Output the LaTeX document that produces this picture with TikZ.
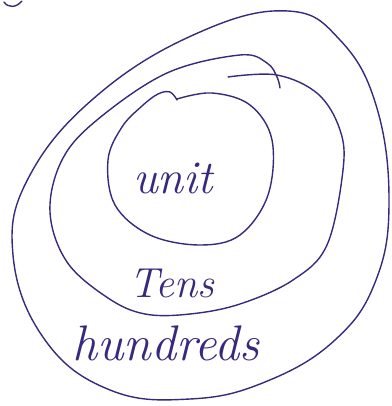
\documentclass[tikz,border=0pt]{standalone}
\begin{document}
\begin{tikzpicture}[x=1pt,y=-1pt,
  ink/.style={draw=inkc,line width=1.4pt,line cap=round,line join=round},
  lbl/.style={text=inkc,font=\itshape,anchor=base,inner sep=0pt}]
\definecolor{inkc}{RGB}{55,42,125}
\useasboundingbox (0,0) rectangle (391,406);
% outer (hundreds)
\draw[ink] plot[smooth cycle,tension=0.7] coordinates {
 (288,11) (340,40) (376,105) (389,200) (376,280) (335,340) (265,382)
 (190,399) (110,390) (45,340) (13,255) (30,175) (100,93) (200,32)};
% middle (tens)
\draw[ink] plot[smooth,tension=0.6] coordinates {
 (228,77) (277,75) (318,94) (340,130) (343,170) (327,245) (293,280) (240,304)
 (190,314) (145,314) (108,298) (67,262) (50,212) (62,160) (97,120) (167,73)
 (240,55) (267,63) (277,77) (280,88)};
% inner (unit)
\draw[ink] plot[smooth,tension=0.6] coordinates {
 (177,99) (212,93) (250,105) (272,140) (268,195) (240,235) (200,245)
 (150,235) (115,205) (108,160) (122,127) (142,106) (158,94) (170,92) (177,100)};
% stray mark top-left
\draw[ink] (4,2) .. controls (8,8) and (16,8) .. (22,1);
% labels
\node[lbl,font=\itshape\fontsize{47}{47}\selectfont] (u) at (173,193) {unit};
\node[lbl,font=\itshape\fontsize{42}{42}\selectfont] (t) at (172,297) {Tens};
\node[lbl,font=\itshape\fontsize{50}{50}\selectfont] (h) at (166,360) {hundreds};
\end{tikzpicture}
\end{document}
